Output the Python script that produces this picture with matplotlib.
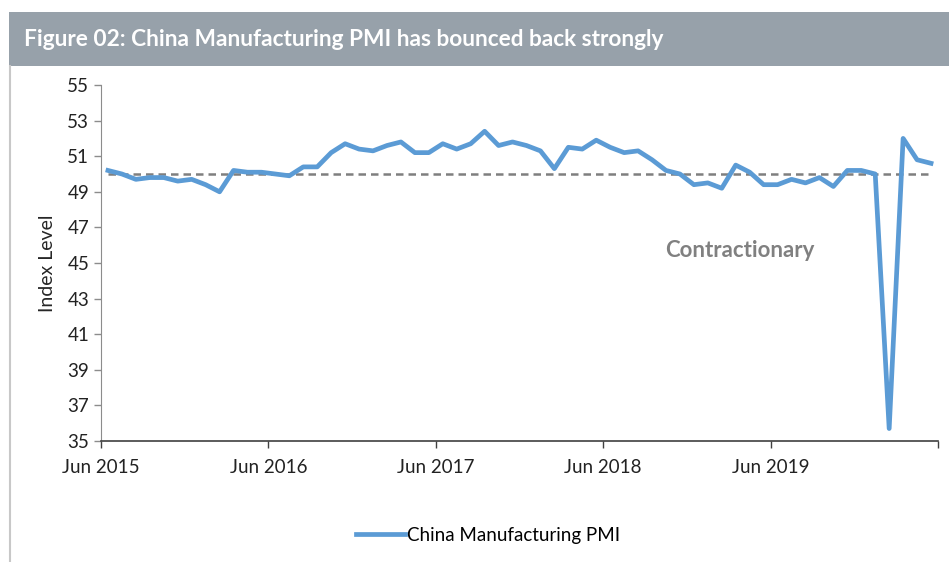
import matplotlib.pyplot as plt
from matplotlib.patches import Rectangle
from matplotlib.lines import Line2D
import numpy as np

# monthly China manufacturing PMI, Jun 2015 - May 2020
months = ["Jun 2015", "Jul 2015", "Aug 2015", "Sep 2015", "Oct 2015", "Nov 2015", "Dec 2015",
          "Jan 2016", "Feb 2016", "Mar 2016", "Apr 2016", "May 2016", "Jun 2016", "Jul 2016",
          "Aug 2016", "Sep 2016", "Oct 2016", "Nov 2016", "Dec 2016",
          "Jan 2017", "Feb 2017", "Mar 2017", "Apr 2017", "May 2017", "Jun 2017", "Jul 2017",
          "Aug 2017", "Sep 2017", "Oct 2017", "Nov 2017", "Dec 2017",
          "Jan 2018", "Feb 2018", "Mar 2018", "Apr 2018", "May 2018", "Jun 2018", "Jul 2018",
          "Aug 2018", "Sep 2018", "Oct 2018", "Nov 2018", "Dec 2018",
          "Jan 2019", "Feb 2019", "Mar 2019", "Apr 2019", "May 2019", "Jun 2019", "Jul 2019",
          "Aug 2019", "Sep 2019", "Oct 2019", "Nov 2019", "Dec 2019",
          "Jan 2020", "Feb 2020", "Mar 2020", "Apr 2020", "May 2020"]
pmi = [50.2, 50.0, 49.7, 49.8, 49.8, 49.6, 49.7,
       49.4, 49.0, 50.2, 50.1, 50.1, 50.0, 49.9, 50.4, 50.4, 51.2, 51.7, 51.4,
       51.3, 51.6, 51.8, 51.2, 51.2, 51.7, 51.4, 51.7, 52.4, 51.6, 51.8, 51.6,
       51.3, 50.3, 51.5, 51.4, 51.9, 51.5, 51.2, 51.3, 50.8, 50.2, 50.0, 49.4,
       49.5, 49.2, 50.5, 50.1, 49.4, 49.4, 49.7, 49.5, 49.8, 49.3, 50.2, 50.2,
       50.0, 35.7, 52.0, 50.8, 50.6]
threshold = 50
tick_labels = ["Jun 2015", "Jun 2016", "Jun 2017", "Jun 2018", "Jun 2019", ""]

plt.rcParams['font.family'] = ['Lato', 'DejaVu Sans']

fig = plt.figure(figsize=(9.49, 5.62), dpi=100)
fig.patch.set_facecolor('white')

# grey title banner
fig.patches.append(Rectangle((9/949, 1-66/562), 1, 54/562, transform=fig.transFigure,
                             facecolor='#97a1aa', edgecolor='none', zorder=0))
fig.text(24/949, 1-40/562, "Figure 02: China Manufacturing PMI has bounced back strongly",
         color='white', fontsize=16.3, fontweight='bold', va='center', ha='left')
# left frame border
fig.lines.append(Line2D([10/949, 10/949], [0, 1-66/562], transform=fig.transFigure,
                        color='#c8c8c8', linewidth=1.5))

ax = fig.add_axes([101/949, 1-441/562, 837/949, 356/562])
x = np.arange(len(pmi))
ax.plot(x, pmi, color='#5b9bd5', linewidth=3.4, solid_joinstyle='round',
        label="China Manufacturing PMI", zorder=3)
ax.hlines(threshold, 0, len(pmi)-1, colors='#7f7f7f', linestyles=(0, (3, 2)),
          linewidth=1.8, zorder=2)
ax.text(45.3, 45.7, "Contractionary", color='#808080', fontsize=16,
        fontweight='bold', ha='center', va='center')

ax.set_xlim(-0.5, len(pmi)-0.5)
ax.set_ylim(35, 55)
ax.set_yticks(np.arange(35, 56, 2))
ax.set_xticks(np.arange(-0.5, len(pmi), 12))
ax.set_xticklabels(tick_labels)
ax.tick_params(axis='both', labelsize=13.5, colors='#222222', length=5, width=1)
ax.tick_params(axis='x', pad=8, color='#404040')
ax.tick_params(axis='y', color='#8c8c8c')
ax.set_ylabel("Index Level", fontsize=14, color='#262626', labelpad=8)

ax.spines['top'].set_visible(False)
ax.spines['right'].set_visible(False)
ax.spines['left'].set_color('#8c8c8c')
ax.spines['bottom'].set_color('#404040')
ax.spines['bottom'].set_linewidth(1.2)

fig.legend(loc='center', bbox_to_anchor=(488/949, 1-535/562), frameon=False,
           fontsize=13.5, handlelength=2.6, handletextpad=0.1)

fig.savefig('out.png', dpi=100)
